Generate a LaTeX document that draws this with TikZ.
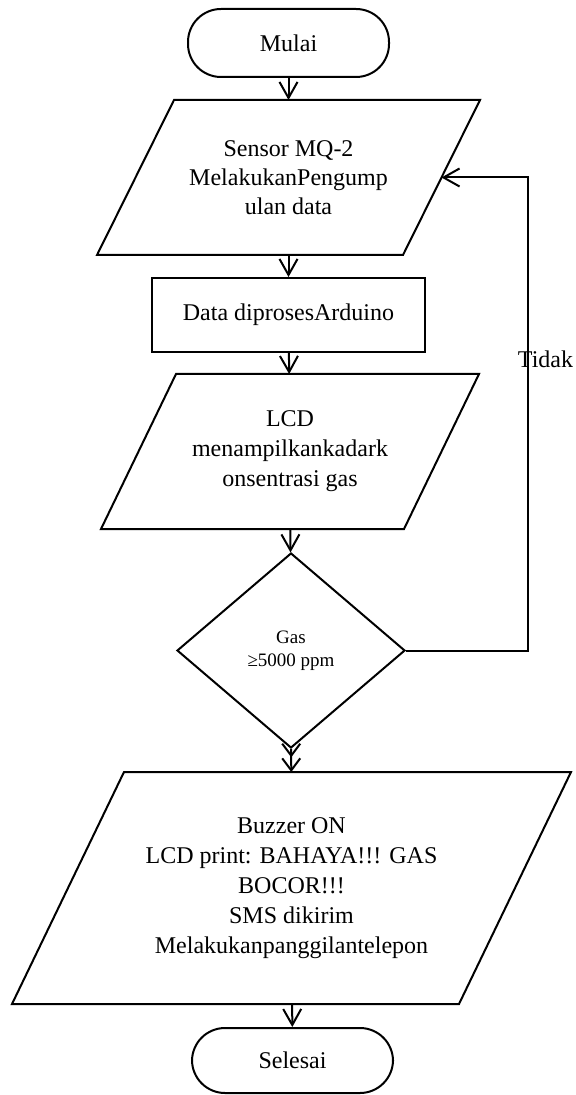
\documentclass[tikz,border=0pt]{standalone}
\usepackage{fontspec}
\setmainfont{Liberation Serif}
\usetikzlibrary{shapes.geometric,arrows.meta}

\begin{document}
\begin{tikzpicture}[x=0.5pt,y=-0.5pt,
    line width=1pt,
    font=\fontsize{12pt}{15pt}\selectfont,
    term/.style={draw, rectangle, rounded corners=16.5pt, minimum width=100.5pt, minimum height=33pt},
    io/.style={rectangle, align=center, inner sep=0pt},
    proc/.style={draw, rectangle, align=center},
    decision/.style={draw, diamond, align=center, inner sep=0pt, font=\fontsize{9.5pt}{11.5pt}\selectfont},
    arr/.style={-{Straight Barb[length=8pt,width=9pt]}}]

  % Keep the page the size of the original
  \useasboundingbox (0,0) rectangle (575,1095);

  % Start
  \node[term, minimum height=34pt] (mulai) at (288.5,43) {Mulai};

  % Input from the sensor
  \node[io, minimum width=190.5pt, minimum height=76.5pt, font=\fontsize{12pt}{14.5pt}\selectfont]
    (sensor) at (288.5,177.5) {Sensor MQ-2\\MelakukanPengump\\ulan data};

  % Processing
  \node[proc, minimum width=136.5pt, minimum height=37pt] (proses) at (288.5,315) {Data diprosesArduino};

  % LCD output
  \node[io, minimum width=188pt, minimum height=76.5pt] (lcd) at (290,451.5)
    {LCD\\menampilkankadark\\onsentrasi gas};

  % Decision
  \node[decision, minimum width=114pt, minimum height=97.5pt] (gas) at (291,650.5)
    {Gas\\≥5000 ppm};

  % Alarm output
  \node[io, minimum width=278.5pt, minimum height=115pt] (alarm) at (291.5,888)
    {Buzzer ON\\LCD print: BAHAYA!!! GAS\\BOCOR!!!\\SMS dikirim\\Melakukanpanggilantelepon};

  % End
  \node[term, minimum height=32.5pt] (selesai) at (292.5,1060.5) {Selesai};

  % Draw the parallelograms round the io nodes
  \foreach \n/\s in {sensor/38.5, lcd/37.5, alarm/56}
    \draw ([xshift=\s pt]\n.north west) -- (\n.north east)
      -- ([xshift=-\s pt]\n.south east) -- (\n.south west) -- cycle;

  % Main flow
  \draw[arr] (mulai) -- (sensor);
  \draw[arr] (sensor) -- (proses);
  \draw[arr] (proses) -- (lcd);
  \draw[arr] (lcd) -- (gas);
  \draw[-{Straight Barb[length=6pt,width=9pt]Straight Barb[length=6pt,width=9pt]}] (gas) -- (alarm);
  \draw[arr] (alarm) -- (selesai);

  % Loop back when the level is low
  \coordinate (back) at ([xshift=-19.25pt]sensor.east);
  \coordinate (turn) at (528,177.5);
  \draw[arr] (gas.east) -| (turn) -- (back);
  \node (tidak) at (545.5,359) {Tidak};
\end{tikzpicture}
\end{document}
